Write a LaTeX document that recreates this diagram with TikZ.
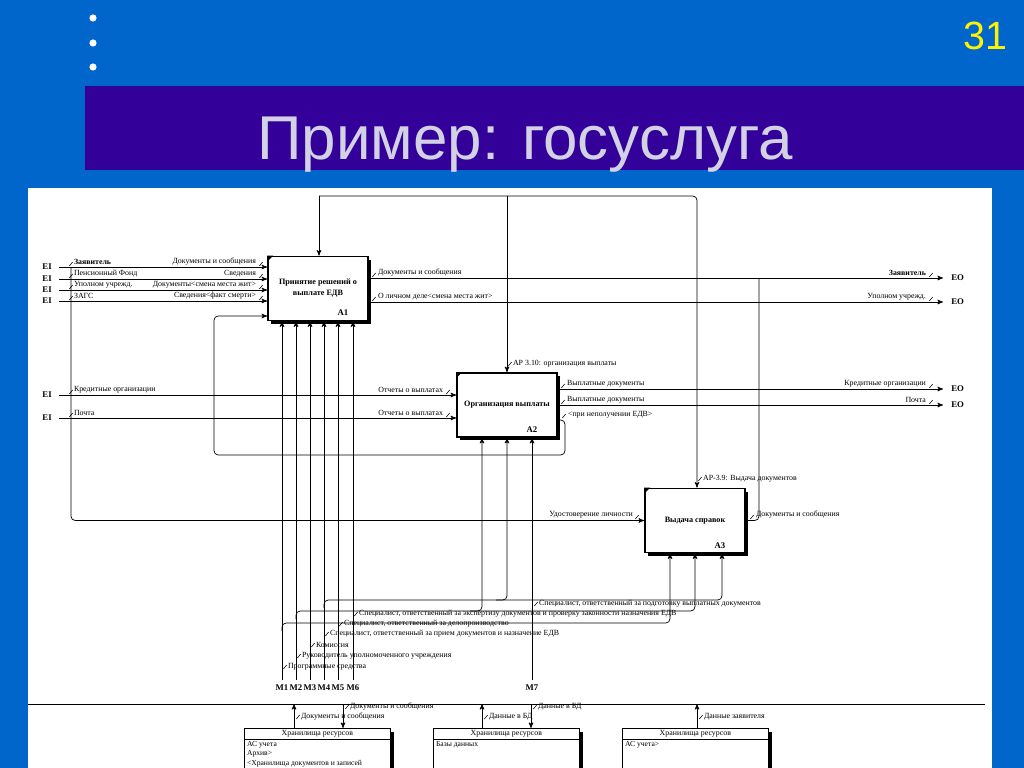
\documentclass[tikz,border=0pt]{standalone}
\usepackage{fontspec}
\setmainfont{Liberation Serif}
\newfontfamily\slidefont{Liberation Sans}
\usetikzlibrary{arrows,shadows}
\definecolor{slideblue}{RGB}{0,102,204}
\definecolor{titlebar}{RGB}{51,0,153}
\definecolor{titlegray}{RGB}{210,210,228}

\begin{document}
\begin{tikzpicture}[x=0.025cm,y=-0.025cm,>=stealth',line width=0.5pt,
        act box/.style={draw,line width=1.2pt,fill=white,inner sep=0pt,
          minimum width=2.5cm,minimum height=1.6cm,align=center,
          font=\fontsize{5.8}{7.8}\selectfont\bfseries,
          drop shadow={opacity=1,fill=black,shadow xshift=0.08cm,shadow yshift=-0.08cm}},
        store box/.style={draw,fill=white,anchor=north west,inner sep=0pt,
          minimum width=3.65cm,minimum height=1.2cm,
          drop shadow={opacity=1,fill=black,shadow xshift=0.09cm,shadow yshift=-0.08cm}},
        lbl/.style={font=\fontsize{5.6}{6.5}\selectfont,inner sep=0.5pt},
        tag/.style={font=\fontsize{6.2}{7}\selectfont\bfseries,inner sep=0pt},
        sq/.pic={\draw[line width=0.4pt] (-1.2pt,-1.4pt) .. controls (0pt,-1.4pt) and (0pt,1.4pt) .. (1.2pt,1.4pt);}]
        % slide
        \useasboundingbox (0,0) rectangle (1024,768);
        \fill[slideblue] (0,0) rectangle (1024,768);
        \fill[titlebar] (85,86) rectangle (1024,170);
        \fill[white] (28,188) rectangle (992,768);
        \fill[white] (93,18) circle (0.09cm) (93,43) circle (0.09cm) (93,67) circle (0.09cm);
        \node[anchor=base,text=titlegray,font=\slidefont\fontsize{44}{50}\selectfont] (title) at (525,160) {Пример: госуслуга};
        \node[anchor=base,text=yellow,font=\slidefont\fontsize{28}{32}\selectfont] (page) at (985,50) {31};

        % activities
        \node[act box] (A1) at (318,288.5) {Принятие решений о\\выплате ЕДВ};
        \node[act box] (A2) at (507,405) {Организация выплаты};
        \node[act box] (A3) at (695,520.5) {Выдача справок};
        \fill (A1.north west) -- ++(6,0) -- ++(-6,6) -- cycle;
        \fill (A2.north west) -- ++(6,0) -- ++(-6,6) -- cycle;
        \fill (A3.north west) -- ++(6,0) -- ++(-6,6) -- cycle;
        \node[tag] (n1) at (343,313) {A1};
        \node[tag] (n2) at (532,430) {A2};
        \node[tag] (n3) at (720,546) {A3};

        % controls
        \coordinate (t1) at (319,196);
        \coordinate (t2) at (507,196);
        \coordinate (t3) at (697,196);
        \draw[->] (t1) -- (A1.north -| t1);
        \draw[->,rounded corners=3pt] (t1) -- (t3) -- (A3.north -| t3);
        \draw[->] (t2) -- (A2.north -| t2);
        \pic at (510,364) {sq};
        \node[lbl,anchor=west] (k1) at (512,364) {AP 3.10: организация выплаты};
        \pic at (700,479) {sq};
        \node[lbl,anchor=west] (k2) at (702,479) {AP-3.9: Выдача документов};

        % inputs of A1
        \coordinate (e1) at (59,267);
        \coordinate (e2) at (59,279);
        \coordinate (e3) at (59,290);
        \coordinate (e4) at (59,301);
        \node[tag,anchor=east] (ei1) at (52,267) {EI};
        \node[tag,anchor=east] (ei2) at (52,279) {EI};
        \node[tag,anchor=east] (ei3) at (52,290) {EI};
        \node[tag,anchor=east] (ei4) at (52,301) {EI};
        \draw[->] (e1) -- (A1.west |- e1);
        \draw[->] (e2) -- (A1.west |- e2);
        \draw[->] (e3) -- (A1.west |- e3);
        \draw[->] (e4) -- (A1.west |- e4);
        \pic at (71,264) {sq}; \pic at (71,276) {sq}; \pic at (71,287) {sq}; \pic at (71,298) {sq};
        \node[lbl,anchor=south west] (li1) at (73,266) {\textbf{Заявитель}};
        \node[lbl,anchor=south west] (li2) at (73,278) {Пенсионный Фонд};
        \node[lbl,anchor=south west] (li3) at (73,289) {Уполном учрежд.};
        \node[lbl,anchor=south west] (li4) at (73,300) {ЗАГС};
        \pic at (261,264) {sq}; \pic at (261,276) {sq}; \pic at (261,287) {sq}; \pic at (261,298) {sq};
        \node[lbl,anchor=south east] (ri1) at (257,266) {Документы и сообщения};
        \node[lbl,anchor=south east] (ri2) at (257,278) {Сведения};
        \node[lbl,anchor=south east] (ri3) at (257,289) {Документы<смена места жит>};
        \node[lbl,anchor=south east] (ri4) at (257,300) {Сведения<факт смерти>};

        % applicant to A3
        \coordinate (j1) at (71,267);
        \draw[->,rounded corners=3pt] (j1) |- (A3.west);
        \pic at (637,517) {sq};
        \node[lbl,anchor=south east] (ud) at (634,519) {Удостоверение личности};

        % outputs of A1
        \coordinate (o1) at (943,278);
        \coordinate (o2) at (943,302);
        \draw[->] (A1.east |- o1) -- (o1);
        \draw[->] (A1.east |- o2) -- (o2);
        \node[tag,anchor=west] (eo1) at (951,278) {EO};
        \node[tag,anchor=west] (eo2) at (951,302) {EO};
        \pic at (374,275) {sq}; \pic at (374,299) {sq};
        \node[lbl,anchor=south west] (lo1) at (377,277) {Документы и сообщения};
        \node[lbl,anchor=south west] (lo2) at (377,301) {О личном деле<смена места жит>};
        \pic at (931,275) {sq}; \pic at (931,299) {sq};
        \node[lbl,anchor=south east] (ro1) at (927,277) {\textbf{Заявитель}};
        \node[lbl,anchor=south east] (ro2) at (927,301) {Уполном учрежд.};

        % inputs of A2
        \coordinate (e5) at (59,395);
        \coordinate (e6) at (59,418);
        \node[tag,anchor=east] (ei5) at (52,395) {EI};
        \node[tag,anchor=east] (ei6) at (52,418) {EI};
        \draw[->] (e5) -- (A2.west |- e5);
        \draw[->] (e6) -- (A2.west |- e6);
        \pic at (71,392) {sq}; \pic at (71,415) {sq};
        \node[lbl,anchor=south west] (li5) at (73,394) {Кредитные организации};
        \node[lbl,anchor=south west] (li6) at (73,417) {Почта};
        \pic at (448,392) {sq}; \pic at (448,415) {sq};
        \node[lbl,anchor=south east] (ri5) at (444,394) {Отчеты о выплатах};
        \node[lbl,anchor=south east] (ri6) at (444,417) {Отчеты о выплатах};

        % outputs of A2
        \coordinate (o3) at (943,389);
        \coordinate (o4) at (943,405);
        \draw[->] (A2.east |- o3) -- (o3);
        \draw[->] (A2.east |- o4) -- (o4);
        \node[tag,anchor=west] (eo3) at (951,389) {EO};
        \node[tag,anchor=west] (eo4) at (951,405) {EO};
        \pic at (563,386) {sq}; \pic at (563,402) {sq};
        \node[lbl,anchor=south west] (lo3) at (566,388) {Выплатные документы};
        \node[lbl,anchor=south west] (lo4) at (566,404) {Выплатные документы};
        \pic at (931,386) {sq}; \pic at (931,402) {sq};
        \node[lbl,anchor=south east] (ro3) at (927,388) {Кредитные организации};
        \node[lbl,anchor=south east] (ro4) at (927,404) {Почта};

        % feedback A2 -> A1
        \coordinate (fb) at (600,420);
        \coordinate (fb1) at (565,455);
        \coordinate (fb2) at (214,316);
        \draw[->,rounded corners=3pt] (A2.east |- fb) -| (fb1) -| (fb2) -- (A1.west |- fb2);
        \pic at (564,416) {sq};
        \node[lbl,anchor=south west] (lo5) at (567,419) {<при неполучении ЕДВ>};

        % output of A3
        \coordinate (j3) at (759,278);
        \draw[rounded corners=3pt] (A3.east) -| (j3);
        \pic at (752,517) {sq};
        \node[lbl,anchor=south west] (lo6) at (755,519) {Документы и сообщения};

        % mechanisms
        \coordinate (m1) at (282,680);
        \coordinate (m2) at (296,680);
        \coordinate (m3) at (310,680);
        \coordinate (m4) at (324,680);
        \coordinate (m5) at (338,680);
        \coordinate (m6) at (353,680);
        \coordinate (m7) at (532,680);
        \draw[->] (m1) -- (A1.south -| m1);
        \draw[->] (m2) -- (A1.south -| m2);
        \draw[->] (m3) -- (A1.south -| m3);
        \draw[->] (m4) -- (A1.south -| m4);
        \draw[->] (m5) -- (A1.south -| m5);
        \draw[->] (m6) -- (A1.south -| m6);
        \draw[->] (m7) -- (A2.south -| m7);
        \node[tag] (M1) at (282,688) {M1};
        \node[tag] (M2) at (296,688) {M2};
        \node[tag] (M3) at (310,688) {M3};
        \node[tag] (M4) at (324,688) {M4};
        \node[tag] (M5) at (338,688) {M5};
        \node[tag] (M6) at (353,688) {M6};
        \node[tag] (M7) at (532,688) {M7};

        \coordinate (r1) at (324,608);
        \coordinate (r1e) at (722,600);
        \coordinate (r1b) at (496,600);
        \draw[->,rounded corners=3pt] (r1) |- (r1e) -- (A3.south -| r1e);
        \draw[->,rounded corners=3pt] (r1b) -| (A2.south);
        \coordinate (r2) at (296,619);
        \coordinate (r2e) at (695,611);
        \coordinate (r2b) at (470,611);
        \coordinate (a21) at (482,611);
        \draw[->,rounded corners=3pt] (r2) |- (r2e) -- (A3.south);
        \draw[->,rounded corners=3pt] (r2b) -- (a21) -- (A2.south -| a21);
        \coordinate (r3) at (282,631);
        \coordinate (r3e) at (670,623);
        \draw[->,rounded corners=3pt] (r3) |- (r3e) -- (A3.south -| r3e);

        \pic at (536,604) {sq};
        \node[lbl,anchor=west] (lm7) at (538,604) {Специалист, ответственный за подготовку выплатных документов};
        \pic at (356,614) {sq};
        \node[lbl,anchor=west] (lm6) at (358,614) {Специалист, ответственный за экспертизу документов и проверку законности назначения ЕДВ};
        \pic at (341,624) {sq};
        \node[lbl,anchor=west] (lm5) at (343,624) {Специалист, ответственный за делопроизводство};
        \pic at (327,634) {sq};
        \node[lbl,anchor=west] (lm4) at (329,634) {Специалист, ответственный за прием документов и назначение ЕДВ};
        \pic at (313,645) {sq};
        \node[lbl,anchor=west] (lm3) at (315,645) {Комиссия};
        \pic at (299,656) {sq};
        \node[lbl,anchor=west] (lm2) at (301,656) {Руководитель уполномоченного учреждения};
        \pic at (285,667) {sq};
        \node[lbl,anchor=west] (lm1) at (287,667) {Программные средства};

        % resource stores
        \draw (28,704) -- (985,704);
        \node[store box] (B1) at (244,728) {};
        \node[store box] (B2) at (433,728) {};
        \node[store box] (B3) at (622,728) {};
        \draw ([yshift=-0.28cm]B1.north west) -- ([yshift=-0.28cm]B1.north east);
        \draw ([yshift=-0.28cm]B2.north west) -- ([yshift=-0.28cm]B2.north east);
        \draw ([yshift=-0.28cm]B3.north west) -- ([yshift=-0.28cm]B3.north east);
        \node[lbl] (h1) at ([yshift=-0.14cm]B1.north) {Хранилища ресурсов};
        \node[lbl] (h2) at ([yshift=-0.14cm]B2.north) {Хранилища ресурсов};
        \node[lbl] (h3) at ([yshift=-0.14cm]B3.north) {Хранилища ресурсов};
        \node[lbl,anchor=north west,align=left,font=\fontsize{5.4}{6.8}\selectfont] (s1) at ([xshift=0.05cm,yshift=-0.3cm]B1.north west) {АС учета\\Архив>\\<Хранилища документов и записей};
        \node[lbl,anchor=north west,align=left,font=\fontsize{5.4}{6.8}\selectfont] (s2) at ([xshift=0.05cm,yshift=-0.3cm]B2.north west) {Базы данных};
        \node[lbl,anchor=north west,align=left,font=\fontsize{5.4}{6.8}\selectfont] (s3) at ([xshift=0.05cm,yshift=-0.3cm]B3.north west) {АС учета>};

        \coordinate (u1) at (294,704);
        \coordinate (d1) at (343,704);
        \coordinate (u2) at (482,704);
        \coordinate (d2) at (531,704);
        \coordinate (u3) at (697,704);
        \draw[->] (B1.north -| u1) -- (u1);
        \draw[->] (d1) -- (B1.north -| d1);
        \draw[->] (B2.north -| u2) -- (u2);
        \draw[->] (d2) -- (B2.north -| d2);
        \draw[->] (B3.north -| u3) -- (u3);
        \pic at (298,717) {sq};
        \node[lbl,anchor=west] (lb1) at (300,717) {Документы и сообщения};
        \pic at (347,707) {sq};
        \node[lbl,anchor=west] (lb2) at (349,707) {Документы и сообщения};
        \pic at (486,717) {sq};
        \node[lbl,anchor=west] (lb3) at (488,717) {Данные в БД};
        \pic at (535,707) {sq};
        \node[lbl,anchor=west] (lb4) at (537,707) {Данные в БД};
        \pic at (701,717) {sq};
        \node[lbl,anchor=west] (lb5) at (703,717) {Данные заявителя};
\end{tikzpicture}
\end{document}
